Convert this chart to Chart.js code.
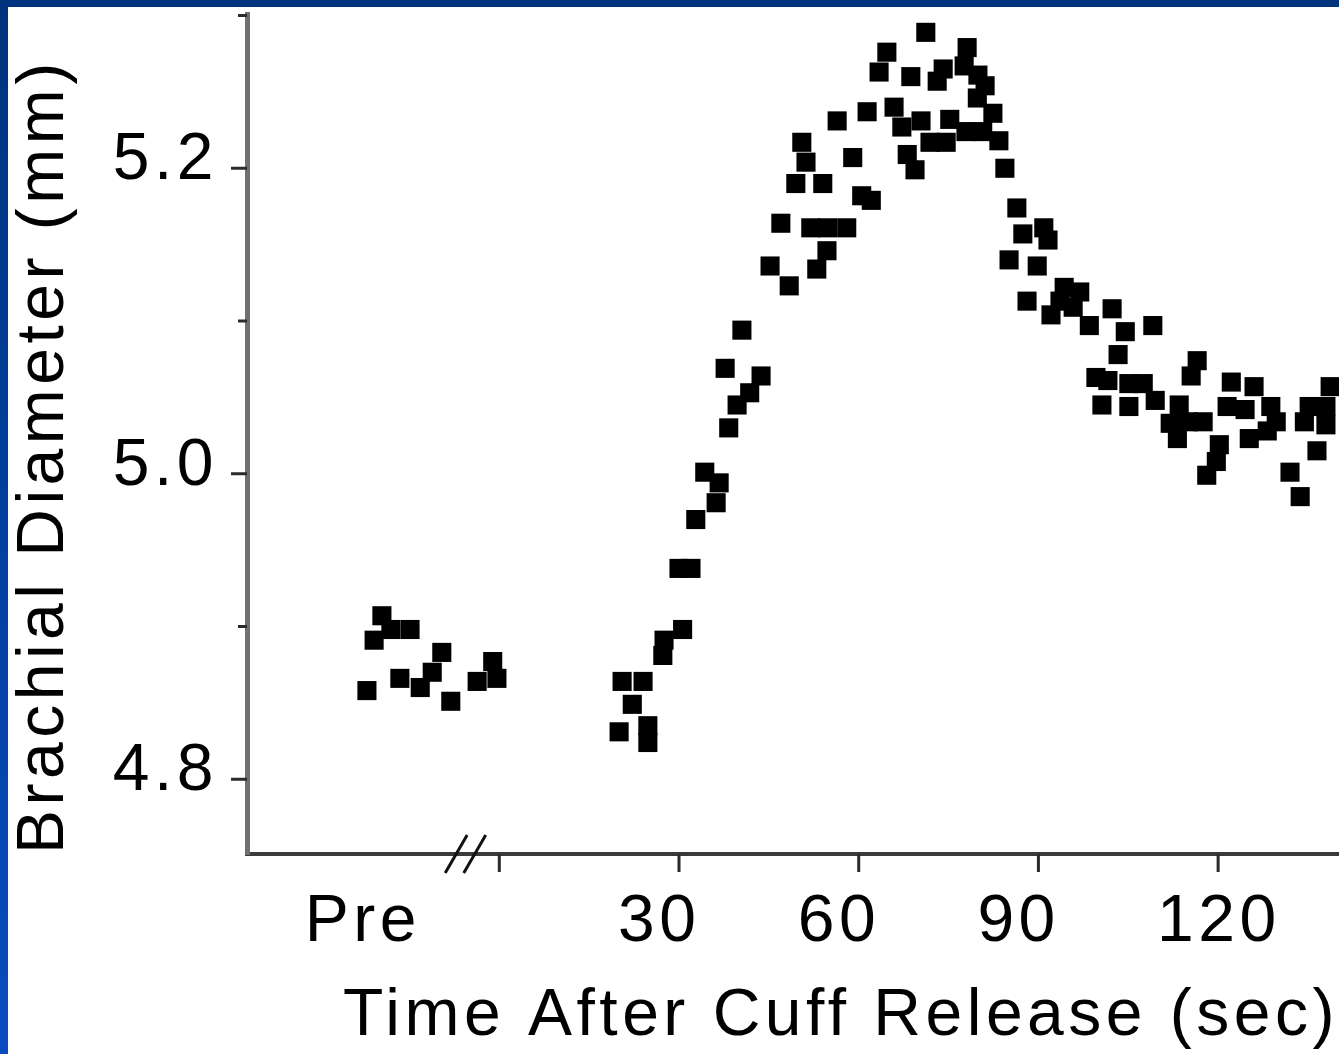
<!DOCTYPE html>
<html>
<head>
<meta charset="utf-8">
<title>Brachial Diameter</title>
<script src="https://cdn.jsdelivr.net/npm/chart.js@4.4.1/dist/chart.umd.min.js"></script>
<style>
  html, body { margin: 0; padding: 0; }
  body {
    width: 1339px; height: 1054px; overflow: hidden; position: relative;
    background: linear-gradient(to bottom, #00337d 0%, #003f9e 50%, #0a4cc0 100%);
  }
  #wrap { position: absolute; left: 8px; top: 7px; width: 1331px; height: 1047px; background: #fff; }
  canvas { display: block; }
</style>
</head>
<body>
<div id="wrap"><canvas id="chart" width="1331" height="1047"></canvas></div>
<script>
// baseline readings before cuff release (placed on the broken part of the axis)
const PRE_TIME = [-22.1, -20.9, -19.6, -18.1, -16.6, -14.9, -13.2, -11.2, -9.6, -8.1, -3.7, -1.1, -0.4];
const PRE_DIAM = [4.858, 4.891, 4.907, 4.898, 4.866, 4.898, 4.860, 4.870, 4.883, 4.851, 4.864, 4.877, 4.866];

// readings after cuff release, seconds / mm
const POST_TIME = [
  20.0, 20.5, 22.2, 24.0, 24.8, 24.8, 27.3, 27.5, 30.0, 30.6, 32.0, 32.8, 34.3, 36.2, 36.7,
  37.7, 38.3, 39.7, 40.5, 41.8, 43.7, 45.2, 47.0, 48.4, 49.5, 50.5, 51.2, 52.0, 53.0, 54.0,
  54.7, 54.8, 56.4, 58.0, 59.0, 60.5, 61.4, 62.1, 63.4, 64.7, 65.9, 67.2, 68.1, 68.7, 69.4,
  70.4, 71.2, 71.9, 73.1, 74.1, 74.6, 75.2, 77.6, 77.9, 78.1, 79.8, 79.9, 80.7, 81.1, 82.4,
  83.4, 84.4, 85.1, 86.4, 87.4, 88.1, 89.8, 90.9, 91.6, 92.1, 93.6, 94.3, 95.8, 96.9, 98.5,
  99.6, 100.6, 101.6, 102.3, 103.3, 104.5, 105.1, 105.1, 107.5, 109.1, 109.5, 112.0, 113.2, 113.5, 115.0,
  115.5, 116.5, 117.5, 118.1, 119.7, 120.2, 121.5, 122.2, 124.5, 125.2, 126.0, 128.2, 128.8, 129.7, 132.0,
  133.7, 134.4, 135.2, 136.5, 138.0, 138.0, 138.7
];
const POST_DIAM = [
  4.831, 4.864, 4.849, 4.864, 4.824, 4.835, 4.881, 4.891, 4.938, 4.898, 4.938, 4.970, 5.001, 4.981, 4.994,
  5.069, 5.030, 5.045, 5.094, 5.053, 5.064, 5.136, 5.164, 5.123, 5.190, 5.217, 5.204, 5.161, 5.134, 5.190,
  5.146, 5.161, 5.231, 5.161, 5.207, 5.182, 5.237, 5.179, 5.263, 5.276, 5.240, 5.227, 5.209, 5.260, 5.199,
  5.231, 5.289, 5.217, 5.257, 5.265, 5.217, 5.232, 5.267, 5.224, 5.279, 5.246, 5.261, 5.224, 5.254, 5.236,
  5.218, 5.200, 5.140, 5.174, 5.157, 5.113, 5.136, 5.161, 5.153, 5.104, 5.113, 5.122, 5.109, 5.119, 5.097,
  5.063, 5.045, 5.061, 5.108, 5.078, 5.093, 5.059, 5.044, 5.059, 5.097, 5.048, 5.033, 5.023, 5.045, 5.034,
  5.064, 5.074, 5.034, 4.999, 5.008, 5.019, 5.044, 5.060, 5.042, 5.023, 5.057, 5.028, 5.044, 5.034, 5.001,
  4.985, 5.034, 5.044, 5.015, 5.044, 5.032, 5.057
];

const X_TICK_VALUES = [-22.3, 30, 60, 90, 120];
const X_TICK_LABELS = ['Pre', '30', '60', '90', '120'];
const X_TICK_MARKS = [0, 30, 60, 90, 120];
const X_BREAK = [-7.2, -4.1];

const Y_TICK_VALUES = [4.8, 5.0, 5.2];
const Y_TICK_LABELS = ['4.8', '5.0', '5.2'];
const Y_MINOR_TICKS = [4.9, 5.1, 5.3];

const FONT = { family: '"Liberation Sans", Arial, Helvetica, sans-serif', size: 66, lineHeight: 1.1 };

const toPoints = (xs, ys) => xs.map((x, i) => ({ x: x, y: ys[i] }));

// tick marks, minor ticks and the "//" axis break
const axisMarks = {
  id: 'axisMarks',
  beforeDraw(chart) {
    chart.ctx.letterSpacing = '4.5px';
  },
  afterDraw(chart) {
    const { ctx, chartArea, scales } = chart;
    const left = chartArea.left, bottom = chartArea.bottom;
    ctx.save();
    ctx.strokeStyle = '#2b2b2b';
    ctx.lineWidth = 3;
    ctx.beginPath();
    Y_TICK_VALUES.forEach(v => {
      const py = scales.y.getPixelForValue(v);
      ctx.moveTo(left - 16, py);
      ctx.lineTo(left, py);
    });
    Y_MINOR_TICKS.forEach(v => {
      const py = scales.y.getPixelForValue(v);
      ctx.moveTo(left - 9, py);
      ctx.lineTo(left, py);
    });
    X_TICK_MARKS.forEach(v => {
      const px = scales.x.getPixelForValue(v);
      ctx.moveTo(px, bottom);
      ctx.lineTo(px, bottom + 18);
    });
    ctx.stroke();

    ctx.strokeStyle = '#111';
    ctx.beginPath();
    X_BREAK.forEach(v => {
      const px = scales.x.getPixelForValue(v);
      ctx.moveTo(px - 11, bottom + 19);
      ctx.lineTo(px + 11, bottom - 19);
    });
    ctx.stroke();
    ctx.restore();
  }
};

new Chart(document.getElementById('chart'), {
  type: 'scatter',
  data: {
    datasets: [
      {
        label: 'Pre',
        data: toPoints(PRE_TIME, PRE_DIAM),
        pointStyle: 'rect',
        pointRadius: 13.5,
        pointBackgroundColor: '#000',
        pointBorderWidth: 0
      },
      {
        label: 'After release',
        data: toPoints(POST_TIME, POST_DIAM),
        pointStyle: 'rect',
        pointRadius: 13.5,
        pointBackgroundColor: '#000',
        pointBorderWidth: 0
      }
    ]
  },
  options: {
    responsive: false,
    animation: false,
    layout: { autoPadding: false, padding: { top: 7, left: 0, right: 0, bottom: 0 } },
    plugins: {
      legend: { display: false },
      tooltip: { enabled: false }
    },
    scales: {
      x: {
        type: 'linear',
        min: -42.12,
        max: 140.18,
        afterBuildTicks: s => { s.ticks = X_TICK_VALUES.map(value => ({ value })); },
        afterFit: s => { s.height = 200; s.paddingLeft = 0; s.paddingRight = 0; },
        grid: { display: false, drawTicks: false },
        border: { display: true, color: '#3a3a3a', width: 4 },
        ticks: {
          callback: (v, i) => X_TICK_LABELS[i],
          align: 'start',
          labelOffset: -61,
          padding: 32,
          maxRotation: 0,
          minRotation: 0,
          autoSkip: false,
          color: '#000',
          font: FONT
        },
        title: {
          display: true,
          text: 'Time After Cuff Release (sec)',
          align: 'end',
          color: '#000',
          font: FONT,
          padding: { top: 0, bottom: 1 }
        }
      },
      y: {
        type: 'linear',
        min: 4.751,
        max: 5.301,
        afterBuildTicks: s => { s.ticks = Y_TICK_VALUES.map(value => ({ value })); },
        afterFit: s => { s.width = 239; s.paddingTop = 0; s.paddingBottom = 0; },
        grid: { display: false, drawTicks: false },
        border: { display: true, color: '#707070', width: 5 },
        ticks: {
          callback: (v, i) => Y_TICK_LABELS[i],
          padding: 29,
          labelOffset: -7,
          autoSkip: false,
          color: '#000',
          font: FONT
        },
        title: {
          display: true,
          text: 'Brachial Diameter (mm)',
          align: 'start',
          color: '#000',
          font: FONT,
          padding: { top: 0, bottom: 0 }
        }
      }
    }
  },
  plugins: [axisMarks]
});
</script>
</body>
</html>
